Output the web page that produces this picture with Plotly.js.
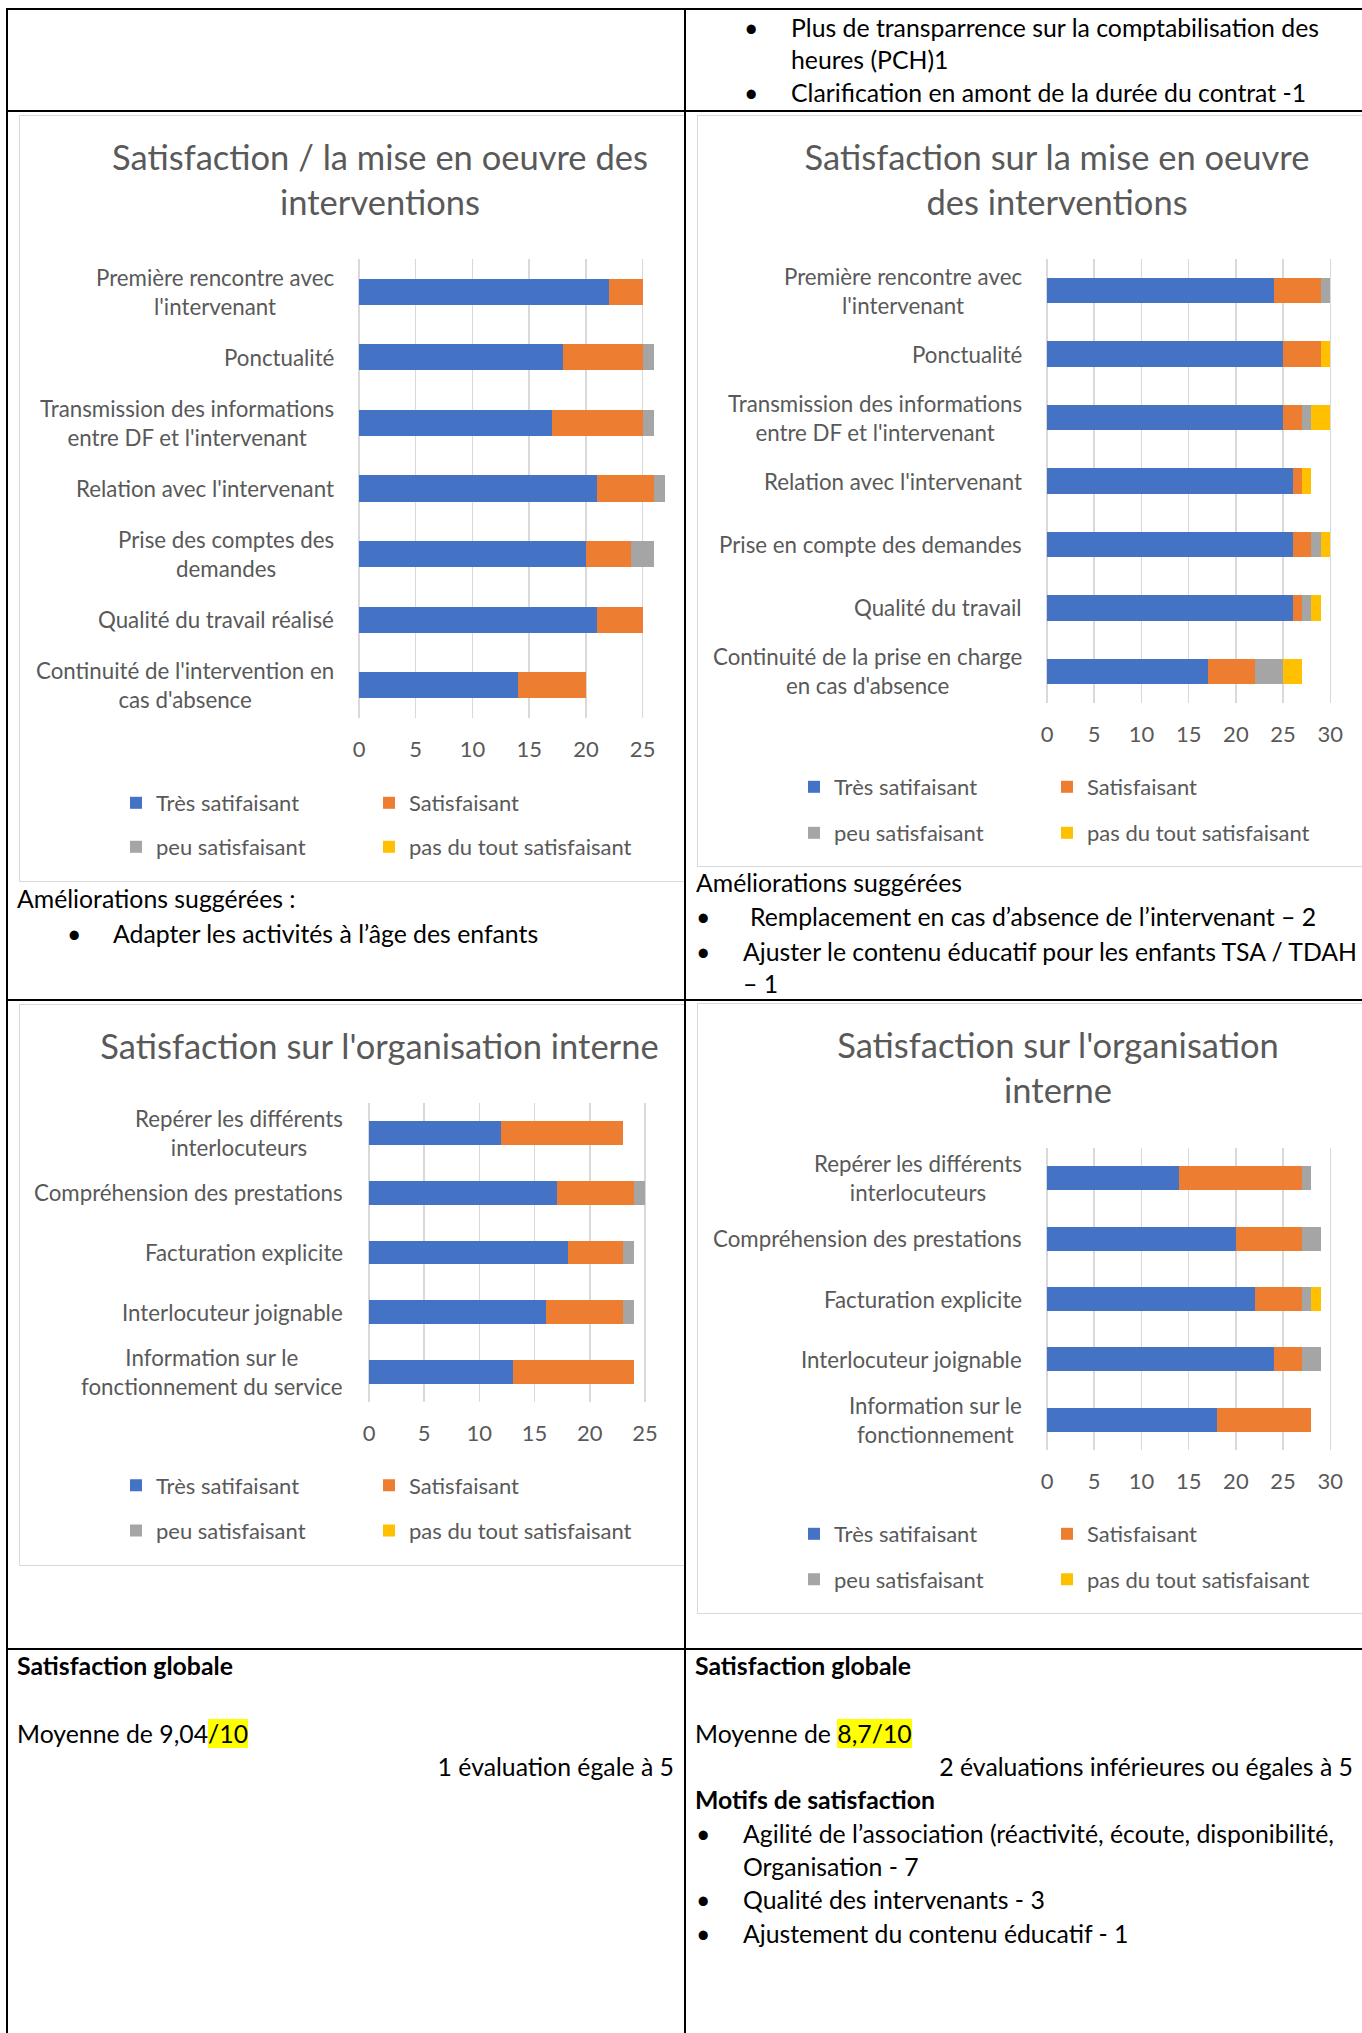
<!DOCTYPE html>
<html><head><meta charset="utf-8">
<script src="https://cdn.plot.ly/plotly-3.0.1.min.js"></script>
<style>
html,body{margin:0;padding:0;background:#fff;}
body{width:1362px;height:2033px;position:relative;overflow:hidden;font-family:Lato,'Liberation Sans',sans-serif;}
.ln{position:absolute;background:#000;z-index:5;}
.t{position:absolute;font-size:24.8px;line-height:32px;color:#000;white-space:nowrap;z-index:6;}
.b{font-weight:bold;}
.mark{background:#ffff00;}
.box{position:absolute;border:1.5px solid #d9d9d9;box-sizing:border-box;background:#fff;z-index:1;}
.plot{position:absolute;z-index:2;}
</style></head><body>

<div class="box" style="left:19px;top:115px;width:666px;height:767px;"></div>
<div class="box" style="left:697px;top:115px;width:680px;height:752px;"></div>
<div class="box" style="left:19px;top:1004px;width:666px;height:562px;"></div>
<div class="box" style="left:697px;top:1003px;width:680px;height:611px;"></div>

<div id="c1" class="plot" style="left:19px;top:115px;width:665px;height:767px;"></div>
<div id="c2" class="plot" style="left:697px;top:115px;width:665px;height:752px;"></div>
<div id="c3" class="plot" style="left:19px;top:1004px;width:665px;height:562px;"></div>
<div id="c4" class="plot" style="left:697px;top:1003px;width:665px;height:611px;"></div>

<!-- table lines -->
<div class="ln" style="left:6px;top:8px;width:1356px;height:2px;"></div>
<div class="ln" style="left:6px;top:110px;width:1356px;height:2px;"></div>
<div class="ln" style="left:6px;top:999px;width:1356px;height:2px;"></div>
<div class="ln" style="left:6px;top:1648px;width:1356px;height:2px;"></div>
<div class="ln" style="left:6px;top:8px;width:2px;height:2025px;"></div>
<div class="ln" style="left:684px;top:8px;width:2px;height:2025px;"></div>

<!-- top cell -->
<div class="t" style="left:744px;top:12px;">•</div>
<div class="t" style="left:791px;top:12px;">Plus de transparrence sur la comptabilisation des</div>
<div class="t" style="left:791px;top:44px;">heures (PCH)1</div>
<div class="t" style="left:744px;top:77px;">•</div>
<div class="t" style="left:791px;top:77px;">Clarification en amont de la durée du contrat -1</div>

<!-- row 1 texts -->
<div class="t" style="left:17px;top:883px;">Améliorations suggérées :</div>
<div class="t" style="left:67px;top:918px;">•</div>
<div class="t" style="left:113px;top:918px;">Adapter les activités à l’âge des enfants</div>

<div class="t" style="left:696px;top:867px;">Améliorations suggérées</div>
<div class="t" style="left:696px;top:901px;">•</div>
<div class="t" style="left:750px;top:901px;">Remplacement en cas d’absence de l’intervenant – 2</div>
<div class="t" style="left:696px;top:936px;">•</div>
<div class="t" style="left:743px;top:936px;">Ajuster le contenu éducatif pour les enfants TSA / TDAH</div>
<div class="t" style="left:743px;top:968px;">– 1</div>

<!-- bottom row -->
<div class="t b" style="left:17px;top:1650px;">Satisfaction globale</div>
<div class="t" style="left:17px;top:1718px;">Moyenne de 9,04<span class="mark">/10</span></div>
<div class="t" style="right:688px;top:1751px;">1 évaluation égale à 5</div>

<div class="t b" style="left:695px;top:1650px;">Satisfaction globale</div>
<div class="t" style="left:695px;top:1718px;">Moyenne de <span class="mark">8,7/10</span></div>
<div class="t" style="right:9px;top:1751px;">2 évaluations inférieures ou égales à 5</div>
<div class="t b" style="left:695px;top:1784px;">Motifs de satisfaction</div>
<div class="t" style="left:696px;top:1818px;">•</div>
<div class="t" style="left:743px;top:1818px;">Agilité de l’association (réactivité, écoute, disponibilité,</div>
<div class="t" style="left:743px;top:1851px;">Organisation - 7</div>
<div class="t" style="left:696px;top:1884px;">•</div>
<div class="t" style="left:743px;top:1884px;">Qualité des intervenants - 3</div>
<div class="t" style="left:696px;top:1918px;">•</div>
<div class="t" style="left:743px;top:1918px;">Ajustement du contenu éducatif - 1</div>

<script>
// ---------- DATA ----------
const seriesNames = ['Très satifaisant', 'Satisfaisant', 'peu satisfaisant', 'pas du tout satisfaisant'];
const seriesColors = ['#4472C4', '#ED7D31', '#A5A5A5', '#FFC000'];

const c1Title = 'Satisfaction / la mise en oeuvre des<br>interventions';
const c1Categories = ["Première rencontre avec<br>l'intervenant", "Ponctualité", "Transmission des informations<br>entre DF et l'intervenant", "Relation avec l'intervenant", "Prise des comptes des<br>demandes", "Qualité du travail réalisé", "Continuité de l'intervention en<br>cas d'absence"];
const c1Tres  = [22, 18, 17, 21, 20, 21, 14];
const c1Satis = [3, 7, 8, 5, 4, 4, 6];
const c1Peu   = [0, 1, 1, 1, 2, 0, 0];
const c1Pas   = [0, 0, 0, 0, 0, 0, 0];
const c1Ticks = [0, 5, 10, 15, 20, 25];

const c2Title = 'Satisfaction sur la mise en oeuvre<br>des interventions';
const c2Categories = ["Première rencontre avec<br>l'intervenant", "Ponctualité", "Transmission des informations<br>entre DF et l'intervenant", "Relation avec l'intervenant", "Prise en compte des demandes", "Qualité du travail", "Continuité de la prise en charge<br>en cas d'absence"];
const c2Tres  = [24, 25, 25, 26, 26, 26, 17];
const c2Satis = [5, 4, 2, 1, 2, 1, 5];
const c2Peu   = [1, 0, 1, 0, 1, 1, 3];
const c2Pas   = [0, 1, 2, 1, 1, 1, 2];
const c2Ticks = [0, 5, 10, 15, 20, 25, 30];

const c3Title = "Satisfaction sur l'organisation interne";
const c3Categories = ["Repérer les différents<br>interlocuteurs", "Compréhension des prestations", "Facturation explicite", "Interlocuteur joignable", "Information sur le<br>fonctionnement du service"];
const c3Tres  = [12, 17, 18, 16, 13];
const c3Satis = [11, 7, 5, 7, 11];
const c3Peu   = [0, 1, 1, 1, 0];
const c3Pas   = [0, 0, 0, 0, 0];
const c3Ticks = [0, 5, 10, 15, 20, 25];

const c4Title = "Satisfaction sur l'organisation<br>interne";
const c4Categories = ["Repérer les différents<br>interlocuteurs", "Compréhension des prestations", "Facturation explicite", "Interlocuteur joignable", "Information sur le<br>fonctionnement"];
const c4Tres  = [14, 20, 22, 24, 18];
const c4Satis = [13, 7, 5, 3, 10];
const c4Peu   = [1, 2, 1, 2, 0];
const c4Pas   = [0, 0, 1, 0, 0];
const c4Ticks = [0, 5, 10, 15, 20, 25, 30];

// ---------- DRAWING ----------
const FONT = 'Lato, "Liberation Sans", sans-serif';
const GREY = '#595959';

function drawChart(id, cfg, title, cats, vals, ticks) {
  const b = cfg.box;
  const ml = cfg.x0 - b.l;
  const pw = cfg.rangeMax * cfg.ppu;
  const mr = b.w - ml - pw;
  const mt = cfg.top - b.t;
  const mb = b.t + b.h - cfg.bottom;
  const ph = cfg.bottom - cfg.top;
  const traces = seriesNames.map((n, i) => ({
    type: 'bar', orientation: 'h', name: n, y: cats, x: vals[i],
    marker: {color: seriesColors[i], line: {width: 0}},
    legend: i < 2 ? 'legend' : 'legend2', legendwidth: (i % 2 === 1) ? 270 : 208,
    hoverinfo: 'skip'
  }));
  const annotations = cats.map(c => ({
    xref: 'paper', yref: 'y', x: 0, y: c, xanchor: 'right', yanchor: 'middle',
    xshift: -(cfg.x0 - cfg.labelRight), text: c, showarrow: false, align: 'center',
    font: {family: FONT, size: 22.3, color: GREY}
  }));
  const tsize = 34.5;
  const nLines = title.split('<br>').length;
  const lineShift = (nLines - 1) * 1.3 * tsize / 2;
  const legendX = (cfg.legendLeft - cfg.x0) / pw;
  const legCommon = {
    orientation: 'h', x: legendX, xanchor: 'left', yanchor: 'middle',
    entrywidth: 208, entrywidthmode: 'pixels', bgcolor: 'rgba(0,0,0,0)', borderwidth: 0,
    font: {family: FONT, size: 22, color: GREY}, traceorder: 'normal'
  };
  const layout = {
    width: b.w, height: b.h,
    margin: {l: ml, r: mr, t: mt, b: mb, pad: 0},
    paper_bgcolor: 'rgba(0,0,0,0)', plot_bgcolor: 'rgba(0,0,0,0)',
    barmode: 'stack', bargap: 0.6, showlegend: true,
    title: {
      text: title, xref: 'container', yref: 'container',
      x: (cfg.titleX - b.l) / b.w, xanchor: 'center',
      y: 1 - (cfg.titleY - 0.35 * tsize + lineShift - b.t) / b.h, yanchor: 'top',
      font: {family: FONT, size: tsize, color: GREY}
    },
    xaxis: {
      range: [0, cfg.rangeMax], tickvals: ticks, ticktext: ticks.map(String),
      showgrid: true, gridcolor: '#D9D9D9', gridwidth: 1.5,
      zeroline: true, zerolinecolor: '#D9D9D9', zerolinewidth: 1.5,
      showline: false, ticks: '', ticklabelstandoff: cfg.standoff,
      tickfont: {family: FONT, size: 22, color: GREY}, fixedrange: true
    },
    yaxis: {autorange: 'reversed', showticklabels: false, showgrid: false, zeroline: false, ticks: '', fixedrange: true},
    legend: Object.assign({}, legCommon, {y: (cfg.bottom - cfg.legendY[0]) / ph}),
    legend2: Object.assign({}, legCommon, {y: (cfg.bottom - cfg.legendY[1]) / ph}),
    annotations: annotations
  };
  Plotly.newPlot(id, traces, layout, {staticPlot: true, displayModeBar: false});
}

drawChart('c1', {
  box: {l: 19, t: 115, w: 665, h: 767},
  x0: 358.5, ppu: 11.38, rangeMax: 27.5, top: 259, bottom: 718,
  labelRight: 335, titleX: 380, titleY: 160, legendLeft: 116, legendY: [803, 847], standoff: 16
}, c1Title, c1Categories, [c1Tres, c1Satis, c1Peu, c1Pas], c1Ticks);

drawChart('c2', {
  box: {l: 697, t: 115, w: 665, h: 752},
  x0: 1046.5, ppu: 9.46, rangeMax: 30.6, top: 259, bottom: 703,
  labelRight: 1023.5, titleX: 1057, titleY: 160, legendLeft: 796, legendY: [787, 833], standoff: 16
}, c2Title, c2Categories, [c2Tres, c2Satis, c2Peu, c2Pas], c2Ticks);

drawChart('c3', {
  box: {l: 19, t: 1004, w: 665, h: 562},
  x0: 368.8, ppu: 11.05, rangeMax: 26, top: 1103, bottom: 1402.5,
  labelRight: 345, titleX: 379.5, titleY: 1047, legendLeft: 116, legendY: [1486, 1531.5], standoff: 16
}, c3Title, c3Categories, [c3Tres, c3Satis, c3Peu, c3Pas], c3Ticks);

drawChart('c4', {
  box: {l: 697, t: 1003, w: 665, h: 611},
  x0: 1046.6, ppu: 9.46, rangeMax: 30.6, top: 1148, bottom: 1450,
  labelRight: 1023.5, titleX: 1058, titleY: 1048, legendLeft: 796, legendY: [1534, 1579.5], standoff: 16
}, c4Title, c4Categories, [c4Tres, c4Satis, c4Peu, c4Pas], c4Ticks);
</script>
</body></html>
